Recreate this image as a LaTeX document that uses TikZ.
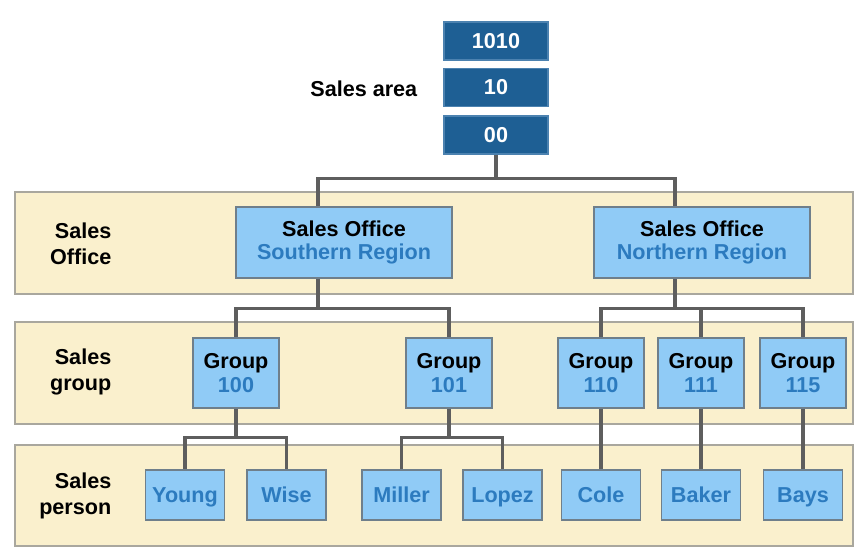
\documentclass[tikz,border=0pt]{standalone}
\usepackage{fontspec}
\setmainfont{Liberation Sans}
\usetikzlibrary{calc}
\definecolor{bandfill}{HTML}{FAF0CD}
\definecolor{bandline}{HTML}{A9A79E}
\definecolor{areablue}{HTML}{1E5F94}
\definecolor{areaedge}{HTML}{4C82B0}
\definecolor{boxblue}{HTML}{90CBF6}
\definecolor{boxedge}{HTML}{6F7F8B}
\definecolor{nameblue}{HTML}{2C7BBF}
\definecolor{linkgray}{HTML}{5E5E5E}

\tikzset{
	band/.style={draw=bandline, fill=bandfill, line width=0.8pt},
	areabox/.style={draw=areaedge, fill=areablue, text=white, line width=0.8pt, minimum width=78pt, minimum height=28.5pt, inner sep=0pt},
	orgbox/.style={draw=boxedge, fill=boxblue, line width=0.8pt, align=center, inner sep=0pt},
	officebox/.style={orgbox, minimum width=162pt, minimum height=53.25pt},
	groupbox/.style={orgbox, minimum width=64.5pt, minimum height=52.5pt},
	personbox/.style={orgbox, text=nameblue, minimum width=59.25pt, minimum height=37.5pt, text height=14.4pt, text depth=3pt},
	rowlabel/.style={align=right, anchor=east, font=\bfseries\fontsize{16.2}{19.2}\selectfont},
	link/.style={draw=linkgray, line width=2.6pt}
}

\begin{document}
\begin{tikzpicture}[x=0.75pt, y=-0.75pt, font=\bfseries\fontsize{16.2}{17.5}\selectfont]
	\useasboundingbox (0,0) rectangle (868,552);

	\draw[band] (15,192) rectangle (853,294);
	\draw[band] (15,322) rectangle (853,424);
	\draw[band] (15,445) rectangle (853,546);

	\node[areabox] (area1010) at (496,41) {1010};
	\node[areabox] (area10) at (496,87.5) {10};
	\node[areabox] (area00) at (496,135) {00};
	\node[rowlabel] (arealabel) at (422,89) {Sales area};

	\node[rowlabel] (officelabel) at (116,244) {Sales\\Office};
	\node[rowlabel] (grouplabel) at (116,372) {Sales\\group};
	\node[rowlabel] (personlabel) at (116,496) {Sales\\person};

	\node[officebox] (south) at (344,242.5) {Sales Office\\\textcolor{nameblue}{Southern Region}};
	\node[officebox] (north) at (702,242.5) {Sales Office\\\textcolor{nameblue}{Northern Region}};

	\node[groupbox] (g100) at (236,373) {Group\\\textcolor{nameblue}{100}};
	\node[groupbox] (g101) at (449,373) {Group\\\textcolor{nameblue}{101}};
	\node[groupbox] (g110) at (601,373) {Group\\\textcolor{nameblue}{110}};
	\node[groupbox] (g111) at (701,373) {Group\\\textcolor{nameblue}{111}};
	\node[groupbox] (g115) at (803,373) {Group\\\textcolor{nameblue}{115}};

	\foreach \name/\x in {Young/185, Wise/286.5, Miller/401.5, Lopez/502.5, Cole/601, Baker/701, Bays/803}
		\node[personbox] (\name) at (\x,495) {\name};

	\draw[link] (area00.south) -- ++(0,24) coordinate (hub);
	\draw[link] (hub) -| ($(south.north)+(-26,0)$);
	\draw[link] (hub) -| ($(north.north)+(-27,0)$);

	\draw[link] ($(south.south)+(-26,0)$) -- ++(0,30) coordinate (sfork);
	\foreach \g in {g100,g101}
		\draw[link] (sfork) -| (\g.north);
	\draw[link] ($(north.south)+(-27,0)$) -- ++(0,30) coordinate (nfork);
	\foreach \g in {g110,g111,g115}
		\draw[link] (nfork) -| (\g.north);

	\draw[link] (g100.south) -- ++(0,29) coordinate (f100);
	\foreach \p in {Young,Wise}
		\draw[link] (f100) -| (\p.north);
	\draw[link] (g101.south) -- ++(0,29) coordinate (f101);
	\foreach \p in {Miller,Lopez}
		\draw[link] (f101) -| (\p.north);
	\draw[link] (g110.south) -- (Cole.north);
	\draw[link] (g111.south) -- (Baker.north);
	\draw[link] (g115.south) -- (Bays.north);
\end{tikzpicture}
\end{document}
